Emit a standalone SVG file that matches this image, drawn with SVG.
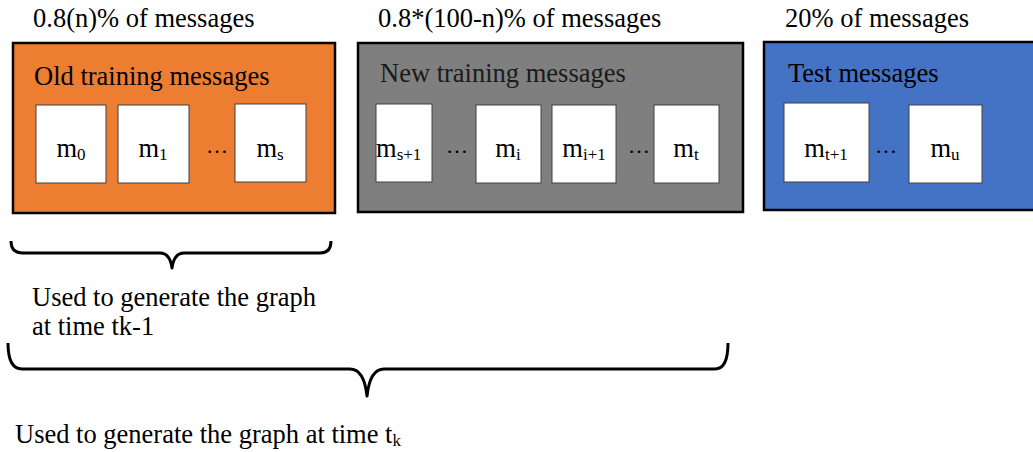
<svg xmlns="http://www.w3.org/2000/svg" width="1033" height="452" viewBox="0 0 1033 452">
<style>
text{font-family:"Liberation Serif","Times New Roman",serif;font-size:26.5px;fill:#000}
.sub{font-size:17px}
.box{stroke:#000;stroke-width:2.5}
.msg{fill:#fff;stroke:#404040;stroke-width:1}
.brace{fill:none;stroke:#000;stroke-width:3;stroke-linecap:butt;stroke-linejoin:round}
.dots{font-size:22px}
</style>
<rect width="1033" height="452" fill="#fff"/>
<g id="old">
<text x="33" y="27">0.8(n)% of messages</text>
<rect class="box" x="13" y="43" width="322" height="170" fill="#ED7D31"/>
<text x="34" y="85">Old training messages</text>
<rect class="msg" x="36" y="105" width="70" height="78"/>
<text x="71" y="157" text-anchor="middle">m<tspan class="sub" dy="3">0</tspan></text>
<rect class="msg" x="118" y="105" width="71" height="78"/>
<text x="153" y="157" text-anchor="middle">m<tspan class="sub" dy="3">1</tspan></text>
<text class="dots" x="206" y="153">…</text>
<rect class="msg" x="235" y="104" width="71" height="78"/>
<text x="270" y="157" text-anchor="middle">m<tspan class="sub" dy="3">s</tspan></text>
</g>
<g id="new">
<text x="378" y="27">0.8*(100-n)% of messages</text>
<rect class="box" x="358" y="43" width="385" height="169" fill="#7F7F7F"/>
<text x="380" y="82" style="fill:#1a1a1a">New training messages</text>
<rect class="msg" x="376" y="104" width="56" height="78"/>
<text x="376" y="157">m<tspan class="sub" dy="3">s+1</tspan></text>
<text class="dots" x="446" y="153">…</text>
<rect class="msg" x="476" y="105" width="65" height="78"/>
<text x="508" y="157" text-anchor="middle">m<tspan class="sub" dy="3">i</tspan></text>
<rect class="msg" x="552" y="105" width="64" height="78"/>
<text x="584" y="157" text-anchor="middle">m<tspan class="sub" dy="3">i+1</tspan></text>
<text class="dots" x="628" y="153">…</text>
<rect class="msg" x="654" y="105" width="65" height="78"/>
<text x="686" y="157" text-anchor="middle">m<tspan class="sub" dy="3">t</tspan></text>
</g>
<g id="test">
<text x="785" y="27">20% of messages</text>
<rect class="box" x="764" y="42" width="280" height="168" fill="#4472C4"/>
<text x="788" y="82">Test messages</text>
<rect class="msg" x="784" y="103" width="85" height="79"/>
<text x="826" y="157" text-anchor="middle">m<tspan class="sub" dy="3">t+1</tspan></text>
<text class="dots" x="875" y="153">…</text>
<rect class="msg" x="909" y="105" width="73" height="78"/>
<text x="945" y="157" text-anchor="middle">m<tspan class="sub" dy="3">u</tspan></text>
</g>
<g id="connectors">
<path class="brace" d="M11,241 Q11,253 23,253 L160,253 Q170,253 172,268 Q174,253 184,253 L320,253 Q331,253 331,241"/>
<path class="brace" d="M8,343 Q8,369 22,369 L350,369 Q364,369 367,396 Q370,369 384,369 L715,369 Q728,369 728,343"/>
</g>
<g id="labels">
<text x="32" y="306">Used to generate the graph</text>
<text x="32" y="335">at time tk-1</text>
<text x="15" y="443">Used to generate the graph at time t<tspan class="sub" dy="3">k</tspan></text>
</g>
</svg>
